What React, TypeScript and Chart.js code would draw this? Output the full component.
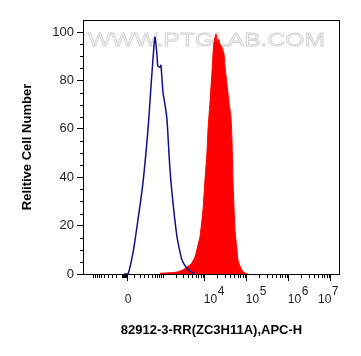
import React, { useEffect, useRef } from "react";
import { Chart, registerables } from "chart.js";

Chart.register(...registerables);

// ---- data (fluorescence intensity, APC-H) ----
const isotypeIntensity = [-65, 0, 82, 170, 272, 394, 481, 545, 616, 692, 734, 828, 877, 988, 1105, 1236, 1465, 1731, 2160, 2554, 2851, 3552, 4428, 5825];
const isotypeCount = [0, 0, 8.7, 22.4, 37.8, 59.8, 77.6, 88.8, 97.9, 90.9, 85.9, 85.5, 86.3, 75.1, 70.1, 63.9, 43.2, 29.5, 15.4, 9.1, 5.8, 2.9, 1.2, 0];

const antibodyIntensity = [828, 1465, 2160, 3013, 3760, 4677, 5830, 6870, 7660, 9040, 10080, 11250, 11900, 13260, 14800, 15640, 16530, 18420, 19470, 20570, 21740, 22920, 25610, 28600, 30200, 33680, 37600, 41900, 44280, 46800, 52270, 58250, 61560, 68750, 76600, 90400, 106500];
const antibodyCount = [0.3, 0.5, 0.8, 1.7, 2.9, 4.1, 7.1, 12, 15.4, 26.6, 39, 50.2, 59.8, 71, 83.4, 90.9, 95.9, 99.2, 97, 95.4, 97, 95, 93.8, 90.9, 85.9, 78.4, 71, 64.7, 55.6, 39, 18.3, 10, 5.8, 3.3, 1.7, 0.4, 0];

const xMajorTicks = [0, 1e4, 1e5, 1e6, 1e7];
const xMajorExponents = ["", "4", "5", "6", "7"];
const yMajorTicks = [0, 20, 40, 60, 80, 100];
const yTickLabels = ["0", "20", "40", "60", "80", "100"];

const xTitle = "82912-3-RR(ZC3H11A),APC-H";
const yTitle = "Relitive Cell Number";
const watermark = "WWW.PTGLAB.COM";

// biexponential-like display transform
const W = 296;
const T = (v: number) => Math.asinh(v / W) / Math.LN10;
const X_MIN = -1.071;
const X_MAX = 5.048;

const minorX: number[] = [];
for (let k = 1; k <= 9; k++) minorX.push(-10 * k);
for (let k = 1; k <= 10; k++) { minorX.push(-100 * k); minorX.push(100 * k); }
for (let d = 3; d <= 6; d++) {
  for (let k = 2; k <= 9; k++) minorX.push(k * Math.pow(10, d));
}
const minorY: number[] = [];
for (let v = 5; v < 105; v += 5) if (v % 20 !== 0) minorY.push(v);

const FONT = "'Liberation Sans', Arial, Helvetica, sans-serif";

const decorPlugin = {
  id: "decor",
  beforeDatasetsDraw(chart: any) {
    const { ctx, chartArea } = chart;
    ctx.save();
    ctx.beginPath();
    ctx.rect(chartArea.left, chartArea.top, chartArea.right - chartArea.left, chartArea.bottom - chartArea.top);
    ctx.clip();
    ctx.font = `24px ${FONT}`;
    const w = ctx.measureText(watermark).width;
    const targetW = 237;
    ctx.translate(88, 46);
    ctx.scale(targetW / w, 0.8);
    ctx.fillStyle = "#f8f8f8";
    ctx.strokeStyle = "#d2d2d2";
    ctx.lineWidth = 1;
    ctx.textBaseline = "alphabetic";
    ctx.fillText(watermark, 0, 0);
    ctx.strokeText(watermark, 0, 0);
    ctx.restore();
  },
  afterDraw(chart: any) {
    const { ctx, chartArea } = chart;
    const xs = chart.scales.x;
    const ys = chart.scales.y;
    ctx.save();
    ctx.strokeStyle = "#000";
    ctx.lineWidth = 1;
    // frame
    ctx.strokeRect(chartArea.left + 0.5, chartArea.top + 0.5, chartArea.right - chartArea.left - 1, chartArea.bottom - chartArea.top);
    // x minor ticks
    ctx.beginPath();
    for (const v of minorX) {
      const t = T(v);
      if (t <= X_MIN || t >= X_MAX) continue;
      const px = Math.round(xs.getPixelForValue(t)) + 0.5;
      ctx.moveTo(px, chartArea.bottom);
      ctx.lineTo(px, chartArea.bottom + 4);
    }
    // y minor ticks
    for (const v of minorY) {
      const py = Math.round(ys.getPixelForValue(v)) + 0.5;
      ctx.moveTo(chartArea.left, py);
      ctx.lineTo(chartArea.left - 3, py);
    }
    ctx.stroke();
    // x labels
    ctx.fillStyle = "#222";
    ctx.font = `12px ${FONT}`;
    ctx.textBaseline = "alphabetic";
    xMajorTicks.forEach((v, i) => {
      const px = xs.getPixelForValue(T(v));
      const exp = xMajorExponents[i];
      if (!exp) {
        ctx.textAlign = "center";
        ctx.fillText(String(v), px, 303);
        return;
      }
      ctx.textAlign = "left";
      const wBase = ctx.measureText("10").width;
      const wExp = ctx.measureText(exp).width;
      let x0 = px - 1;
      if (x0 + wBase + wExp > chartArea.right - 2) x0 = chartArea.right - 2 - wBase - wExp;
      ctx.fillText("10", x0, 303);
      ctx.fillText(exp, x0 + wBase + 0.5, 295);
    });
    ctx.restore();
  },
};

export default function App() {
  const ref = useRef<HTMLCanvasElement>(null);
  useEffect(() => {
    if (!ref.current) return;
    const chart = new Chart(ref.current, {
      type: "line",
      data: {
        datasets: [
          {
            label: "Isotype",
            data: isotypeIntensity.map((v, i) => ({ x: T(v), y: isotypeCount[i] })),
            borderColor: "#10108a",
            borderWidth: 1.5,
            pointRadius: 0,
            tension: 0.25,
            fill: false,
          },
          {
            label: "82912-3-RR",
            data: antibodyIntensity.map((v, i) => ({ x: T(v), y: antibodyCount[i] })),
            borderColor: "#ff0000",
            backgroundColor: "#ff0000",
            borderWidth: 1,
            pointRadius: 0,
            tension: 0.2,
            fill: "origin",
          },
        ],
      },
      options: {
        animation: false,
        responsive: false,
        devicePixelRatio: 1,
        layout: { padding: { top: 20, right: 21, left: 0, bottom: 0 } },
        plugins: { legend: { display: false }, tooltip: { enabled: false } },
        scales: {
          x: {
            type: "linear",
            min: X_MIN,
            max: X_MAX,
            afterBuildTicks: (s: any) => {
              s.ticks = xMajorTicks.map((v) => ({ value: T(v) }));
            },
            ticks: { display: false },
            grid: { drawOnChartArea: false, drawTicks: true, tickLength: 7, tickColor: "#000", color: "#000" },
            border: { display: false },
            title: {
              display: true,
              text: xTitle,
              color: "#000",
              font: { family: FONT, size: 13, weight: "bold" },
              padding: { top: 0, bottom: 18 },
            },
            afterFit: (s: any) => {
              s.height = 82;
            },
          },
          y: {
            type: "linear",
            min: 0,
            max: 105,
            afterBuildTicks: (s: any) => {
              s.ticks = yMajorTicks.map((v) => ({ value: v }));
            },
            ticks: {
              color: "#222",
              font: { family: FONT, size: 13 },
              padding: 3,
              callback: (v: any) => yTickLabels[yMajorTicks.indexOf(Number(v))] ?? "",
            },
            grid: { drawOnChartArea: false, drawTicks: true, tickLength: 6, tickColor: "#000", color: "#000" },
            border: { display: false },
            title: {
              display: true,
              text: yTitle,
              color: "#000",
              font: { family: FONT, size: 13, weight: "bold" },
              padding: { top: 20, bottom: 0 },
            },
            afterFit: (s: any) => {
              s.width = 83;
            },
          },
        },
      },
      plugins: [decorPlugin],
    });
    return () => chart.destroy();
  }, []);
  return (
    <div style={{ position: "absolute", left: 0, top: 0, width: 361, height: 356, background: "#fff" }}>
      <canvas ref={ref} width={361} height={356} style={{ display: "block" }} />
    </div>
  );
}
